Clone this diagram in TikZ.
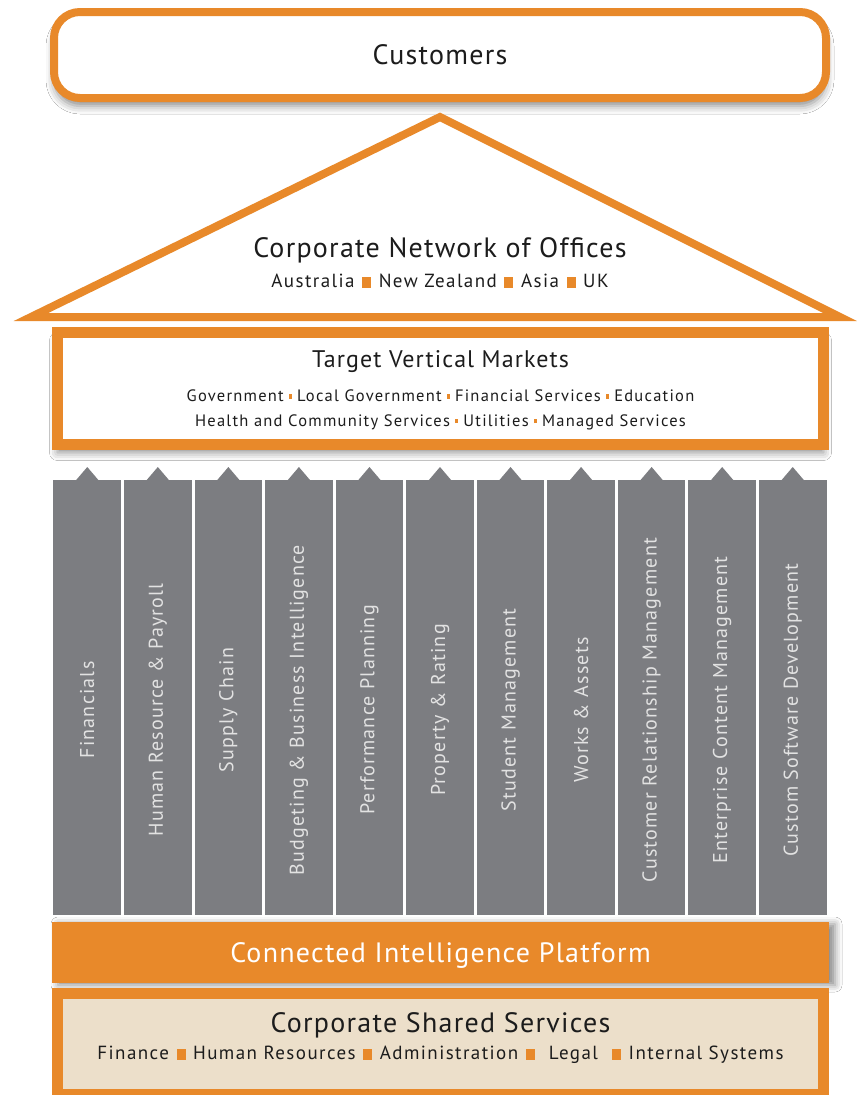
\documentclass[tikz,border=0pt]{standalone}
\usepackage{fontspec}
\setmainfont{PT Sans}
% tracked variants of the face for the headings and item lines
\newfontfamily\trackedA{PT Sans}[LetterSpace=4.5]
\newfontfamily\trackedB{PT Sans}[LetterSpace=7.5]
\newfontfamily\trackedC{PT Sans}[LetterSpace=6]
\usetikzlibrary{shadows.blur}

\definecolor{brandorange}{HTML}{E8892A}
\definecolor{pillar}{HTML}{7C7D81}
\definecolor{pillartext}{HTML}{E2E2E2}
\definecolor{sand}{HTML}{ECDFCA}
\definecolor{ink}{HTML}{1C1C1C}

% orange separator square: width, height
\newcommand{\osq}[2]{\hspace{0.4em}\textcolor{brandorange}{\rule{#1}{#2}}\hspace{0.4em}}
% small orange dot used between market names
\newcommand{\mdot}{\hspace{0.3em}\textcolor{brandorange}{\rule[0.18em]{3.5pt}{4.5pt}}\hspace{0.3em}}

\begin{document}
\begin{tikzpicture}[x=1pt,y=-1pt,
  title/.style={text=ink,font=\trackedA\fontsize{28}{30}\selectfont},
  subline/.style={text=ink,font=\trackedB\fontsize{19}{22}\selectfont},
  smallline/.style={text=ink,font=\trackedB\fontsize{16.5}{20}\selectfont},
  framebox/.style={draw=brandorange,fill=white,inner sep=0pt},
  softshadow/.style={blur shadow={shadow xshift=0pt,shadow yshift=-8pt,
      shadow blur radius=8pt,shadow opacity=45}},
  pillarlabel/.style={rotate=90,text=pillartext,font=\trackedC\fontsize{20}{22}\selectfont,inner sep=0pt}
]
\useasboundingbox (0,0) rectangle (857,1095);
\fill[white] (0,0) rectangle (857,1095);

% customers banner
\node[framebox,softshadow,line width=8pt,rounded corners=26pt,
      minimum width=772pt,minimum height=86pt] (cust) at (440,55) {};
\node[title] (custtext) at (cust.center) {Customers};

% roof: network of offices
\coordinate (roofL) at (31,317);
\coordinate (roofT) at (440,117);
\coordinate (roofR) at (840,317);
\draw[draw=brandorange,fill=white,line width=8pt,line join=miter]
  (roofL) -- (roofT) -- (roofR) -- cycle;
\node[title] (net) at (440,250) {Corporate Network of Offices};
\node[subline] (offices) at (440,281)
  {Australia\osq{9pt}{11pt}New Zealand\osq{9pt}{11pt}Asia\osq{9pt}{11pt}UK};

% target vertical markets
\node[framebox,softshadow,line width=11pt,
      minimum width=766pt,minimum height=112pt] (markets) at (440.5,388.5) {};
\node[text=ink,font=\trackedA\fontsize{24}{28}\selectfont] (mtitle) at (440.5,362) {Target Vertical Markets};
\node[smallline] (mline1) at (440.5,396)
  {Government\mdot Local Government\mdot Financial Services\mdot Education};
\node[smallline] (mline2) at (440.5,422)
  {Health and Community Services\mdot Utilities\mdot Managed Services};

% product pillars
\foreach \i/\lab in {0/Financials,1/Human Resource \& Payroll,2/Supply Chain,
  3/Budgeting \& Business Intelligence,4/Performance Planning,5/Property \& Rating,
  6/Student Management,7/Works \& Assets,8/Customer Relationship Management,
  9/Enterprise Content Management,10/Custom Software Development}{
  \pgfmathsetmacro\cx{52+70.545*(\i+0.5)}
  \fill[pillar] (\cx-33.8,480) rectangle (\cx+33.8,915);
  \fill[pillar] (\cx-11.5,480.5) -- (\cx,467) -- (\cx+11.5,480.5) -- cycle;
  \node[pillarlabel] (p\i) at (\cx,710) {\lab};
}

% platform band
\node[fill=brandorange,blur shadow={shadow xshift=6pt,shadow yshift=-2pt,
      shadow blur radius=7pt,shadow opacity=45},inner sep=0pt,
      minimum width=777pt,minimum height=61pt] (platform) at (440.5,952.5) {};
\node[text=white,font=\trackedA\fontsize{28}{30}\selectfont] (ptext) at (440.5,955)
  {Connected Intelligence Platform};

% corporate shared services
\node[draw=brandorange,fill=sand,line width=11pt,inner sep=0pt,
      minimum width=766pt,minimum height=101pt] (shared) at (440.5,1044) {};
\node[title] (stitle) at (440.5,1025) {Corporate Shared Services};
\node[subline] (sline) at (440.5,1055)
  {Finance\osq{9pt}{11pt}Human Resources\osq{9pt}{11pt}Administration\osq{9pt}{11pt} Legal \osq{9pt}{11pt}Internal Systems};
\end{tikzpicture}
\end{document}
